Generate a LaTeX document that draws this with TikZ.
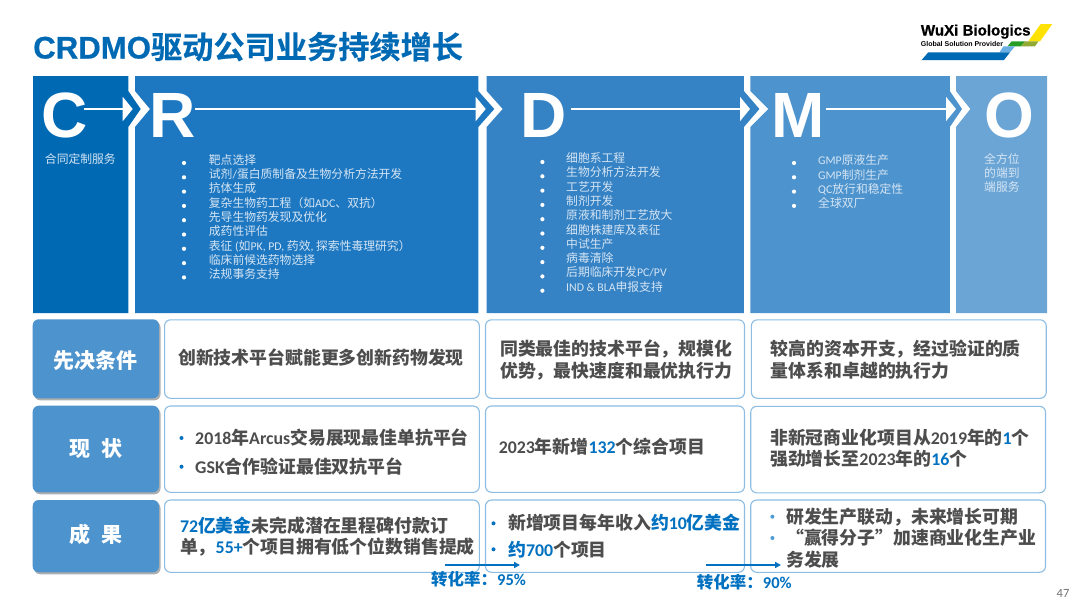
\documentclass[tikz,border=0pt]{standalone}
\usepackage{fontspec}
\setmainfont{Noto Sans CJK SC}
\newfontfamily\carl{Carlito}
\newfontfamily\arial{Liberation Sans}
\newfontfamily\titlelat[FakeBold=0.6]{Liberation Sans Bold}
\newfontfamily\titlecjk[FakeBold=0.4]{Noto Sans CJK SC Bold}
\usetikzlibrary{arrows.meta,shadows}
\definecolor{cC}{HTML}{0069B4}
\definecolor{cR}{HTML}{1E78C1}
\definecolor{cD}{HTML}{3582C4}
\definecolor{cM}{HTML}{4D93CD}
\definecolor{cO}{HTML}{6BA5D5}
\definecolor{hlc}{HTML}{0070C0}
\definecolor{bodyc}{HTML}{4D4D4D}
\definecolor{edgec}{HTML}{8DBDE3}
\definecolor{listc}{HTML}{D5E5F4}
\newcommand\lat[1]{{\carl #1}}
\newcommand\hl[1]{\textcolor{hlc}{#1}}
\tikzset{
  x=1pt,y=-1pt,
  sz/.style={anchor=base west,inner sep=0pt,font=\fontsize{#1}{#1}\selectfont,yshift={-0.36*#1 pt}},
  listtext/.style={sz=11.8,text=listc},
  rowtext/.style={sz=17.85,text=bodyc,font=\fontsize{17.85}{17.85}\selectfont\bfseries},
  bigletter/.style={anchor=base west,inner sep=0pt,text=white,font=\fontsize{64}{64}\selectfont\arial\bfseries},
  wbullet/.style={circle,fill=white,inner sep=0pt,minimum size=4.2pt},
  bbullet/.style={circle,fill=hlc,inner sep=0pt,minimum size=4pt},
  labelbox/.style={draw=none,fill=cM,rounded corners=6pt,drop shadow={shadow xshift=1.5pt,shadow yshift=-2pt,opacity=.45,fill=black!70}},
  rowbox/.style={draw=edgec,line width=1.1pt,rounded corners=6pt},
  labeltext/.style={text=white,inner sep=0pt,font=\fontsize{21}{21}\selectfont\bfseries},
  flow/.style={draw=white,line width=2pt,-{Triangle[length=10pt,width=24pt,fill=white]}},
  conv/.style={draw=hlc,line width=1.6pt,-{Triangle[length=6pt,width=6pt]}},
  convtext/.style={sz=16.5,text=hlc,font=\fontsize{16.5}{16.5}\selectfont\bfseries}
}
\begin{document}
\begin{tikzpicture}
\path[use as bounding box,fill=white] (0,0) rectangle (1080,606);
% columns
\fill[cC] (33,76)--(128.3,76)--(128.3,91)--(140.7,109)--(128.3,127)--(128.3,313)--(33,313)--cycle;
\fill[cR] (135,76)--(478.3,76)--(478.3,91)--(494.3,109)--(478.3,127)--(478.3,313)--(135,313)--(135,127)--(150,109)--(135,91)--cycle;
\fill[cD] (486.7,76)--(743.9,76)--(743.9,91)--(759.4,109)--(743.9,127)--(743.9,313)--(486.7,313)--(486.7,127)--(502.7,109)--(486.7,91)--cycle;
\fill[cM] (750.4,76)--(949.8,76)--(949.8,91)--(962,109)--(949.8,127)--(949.8,313)--(750.4,313)--(750.4,127)--(768.3,109)--(750.4,91)--cycle;
\fill[cO] (956,76)--(1047,76)--(1047,313)--(956,313)--(956,127)--(970.4,109)--(956,91)--cycle;
% title
\node[anchor=base west,inner sep=0pt,text=cC] (title) at (33,58.5)
  {\fontsize{31.2}{31.2}\selectfont{\titlelat CRDMO}{\titlecjk 驱动公司业务持续增长}};
% logo
\fill[yellow!85!orange] (1040.7,24)--(1052.3,24)--(1040,41.3)--(1028.3,41.3)--cycle;
\fill[green!55!black!85!white] (1011.7,41.3)--(1025,41.3)--(1021,46.3)--(1007.5,46.3)--cycle;
\fill[olive!70!green!80!white] (1025,41.3)--(1038.5,41.3)--(1035,46.3)--(1021,46.3)--cycle;
\fill[cyan!70!blue!60!white] (1003.5,46.3)--(1015,46.3)--(1010,52.3)--(999.5,52.3)--cycle;
\fill[cC] (928.3,52.3)--(1010,52.3)--(1004,60)--(921.7,60)--cycle;
\node[anchor=base west,inner sep=0pt] (logoa) at (920.7,35.5) {\fontsize{15.1}{15.1}\selectfont\titlelat WuXi Biologics};
\node[anchor=base west,inner sep=0pt] (logob) at (920.7,46.5) {\fontsize{7}{7}\selectfont\arial\bfseries Global Solution Provider};
% big letters
\node[bigletter] (C) at (41,137.5) {C};
\node[bigletter] (R) at (149.5,137.5) {R};
\node[bigletter] (D) at (520.5,137.5) {D};
\node[bigletter] (M) at (771,137.5) {M};
\node[bigletter] (O) at (984,137.5) {O};
% flow arrows
\coordinate (c1) at (83.7,109); \coordinate (c2) at (132.7,109);
\coordinate (r1) at (195,109); \coordinate (r2) at (485.7,109);
\coordinate (d1) at (571.3,109); \coordinate (d2) at (750,109);
\coordinate (m1) at (825.8,109); \coordinate (m2) at (956,109);
\draw[flow] (c1)--(c2);
\draw[flow] (r1)--(r2);
\draw[flow] (d1)--(d2);
\draw[flow] (m1)--(m2);
% column lists
\node[listtext] (ctxt) at (44.8,159) {合同定制服务};
\foreach \t [count=\i from 0] in {靶点选择,试剂\lat{/}蛋白质制备及生物分析方法开发,抗体生成,复杂生物药工程（如\lat{ADC}、双抗）,先导生物药发现及优化,成药性评估,{表征 \lat{(}如\lat{PK, PD,} 药效\lat{,} 探索性毒理研究）},临床前候选药物选择,法规事务支持}{
  \node[listtext] (rt\i) at (208.7,160+14.3*\i) {\t};
  \node[wbullet] (rb\i) at (184,163+14.3*\i) {};
}
\foreach \t [count=\i from 0] in {细胞系工程,生物分析方法开发,工艺开发,制剂开发,原液和制剂工艺放大,细胞株建库及表征,中试生产,病毒清除,后期临床开发\lat{PC/PV},\lat{IND \& BLA}申报支持}{
  \node[listtext] (dt\i) at (566,158.3+14.3*\i) {\t};
  \node[wbullet] (db\i) at (542.4,162+14.3*\i) {};
}
\foreach \t [count=\i from 0] in {\lat{GMP}原液生产,\lat{GMP}制剂生产,\lat{QC}放行和稳定性,全球双厂}{
  \node[listtext] (mt\i) at (818,160.7+14.3*\i) {\t};
  \node[wbullet] (mb\i) at (794,163+14.3*\i) {};
}
\node[listtext] (oa) at (984,159.3) {全方位};
\node[listtext] (ob) at (984,173.7) {的端到};
\node[listtext] (oc) at (984,187) {端服务};
% row labels
\path[labelbox] (32.7,319.3) rectangle (159,398.3) node[midway,labeltext,yshift=-2pt] (l1) {先决条件};
\path[labelbox] (32.7,405.7) rectangle (159,492.3) node[midway,labeltext] (l2) {现\hspace{.5em}状};
\path[labelbox] (32.7,500) rectangle (159,572.3) node[midway,labeltext,yshift=2pt] (l3) {成\hspace{.5em}果};
% row boxes
\draw[rowbox] (164.6,319.8) rectangle (479.3,398.3);
\draw[rowbox] (485.5,319.8) rectangle (744.5,398.3);
\draw[rowbox] (751.4,319.8) rectangle (1046.2,398.3);
\draw[rowbox] (164.6,406) rectangle (479.3,492.3);
\draw[rowbox] (485.5,406) rectangle (744.5,492.3);
\draw[rowbox] (750.7,406.3) rectangle (1045.5,492.8);
\draw[rowbox] (164.6,500) rectangle (479.3,572.3);
\draw[rowbox] (485.5,500) rectangle (744.5,572.3);
\draw[rowbox] (750.7,500) rectangle (1045.5,572.3);
% row 1
\node[rowtext] (a1) at (178,358.3) {创新技术平台赋能更多创新药物发现};
\node[rowtext] (a2) at (500,349.3) {同类最佳的技术平台，规模化};
\node[rowtext] (a3) at (500,371) {优势，最快速度和最优执行力};
\node[rowtext] (a4) at (770.7,349.3) {较高的资本开支，经过验证的质};
\node[rowtext] (a5) at (770.7,371) {量体系和卓越的执行力};
% row 2
\node[bbullet] (b1) at (181.5,438) {};
\node[bbullet] (b2) at (181.5,466.7) {};
\node[rowtext] (b3) at (195,438.3) {\lat{2018}年\lat{Arcus}交易展现最佳单抗平台};
\node[rowtext] (b4) at (195,466.7) {\lat{GSK}合作验证最佳双抗平台};
\node[rowtext] (b5) at (498.6,447.3) {\lat{2023}年新增\hl{\lat{132}}个综合项目};
\node[rowtext] (b6) at (770,437.7) {非新冠商业化项目从\lat{2019}年的\hl{\lat{1}}个};
\node[rowtext] (b7) at (770,459) {强劲增长至\lat{2023}年的\hl{\lat{16}}个};
% row 3
\node[rowtext] (c3) at (179.8,526) {\hl{\lat{72}亿美金}未完成潜在里程碑付款订};
\node[rowtext] (c4) at (179.8,547.3) {单，\hl{\lat{55+}}个项目拥有低个位数销售提成};
\node[bbullet] (c5) at (493.5,523.3) {};
\node[bbullet] (c6) at (493.5,549.3) {};
\node[rowtext] (c7) at (508,523.3) {新增项目每年收入\hl{约\lat{10}亿美金}};
\node[rowtext] (c8) at (508,550) {\hl{约\lat{700}}个项目};
\node[bbullet,fill=hlc!70] (c9) at (772.4,516.7) {};
\node[bbullet,fill=hlc!70] (c10) at (772.4,538) {};
\node[rowtext] (c11) at (786,516.7) {研发生产联动，未来增长可期};
\node[rowtext] (c12) at (786,538.3) {“赢得分子”加速商业化生产业};
\node[rowtext] (c13) at (786,560) {务发展};
% conversion
\coordinate (e1) at (445,565); \coordinate (e2) at (520,565);
\coordinate (f1) at (706,565); \coordinate (f2) at (781,565);
\draw[conv] (e1)--(e2);
\draw[conv] (f1)--(f2);
\node[convtext] (t1) at (431,580) {转化率：\lat{95\%}};
\node[convtext] (t2) at (696.7,582.7) {转化率：\lat{90\%}};
\node[sz=12.5,text=black!55] (pg) at (1056.5,593) {\lat{47}};
\end{tikzpicture}
\end{document}
